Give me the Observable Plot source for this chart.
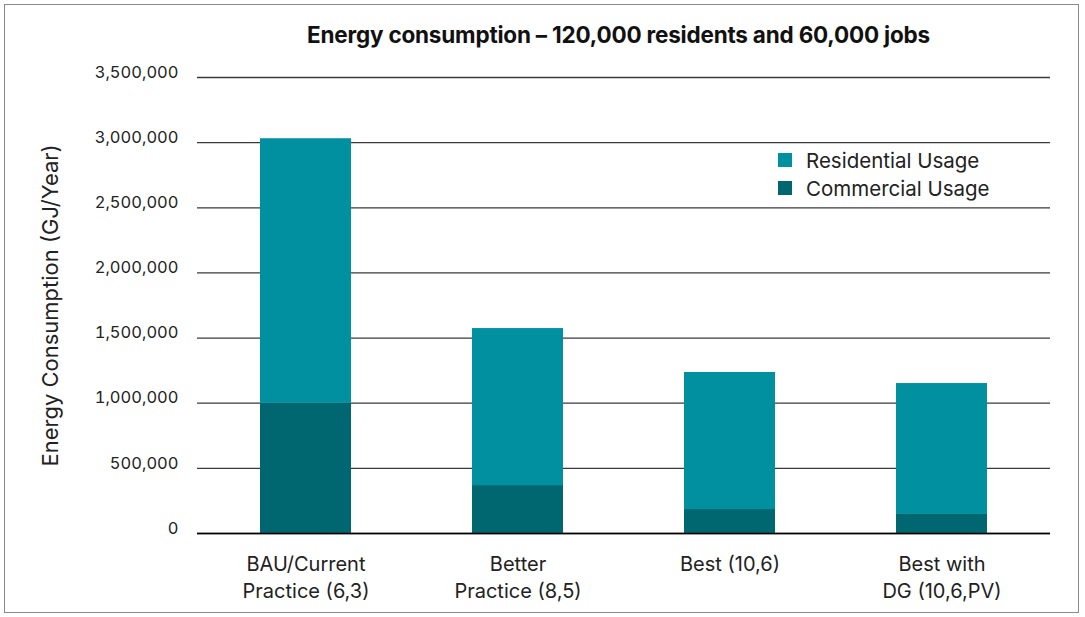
<!DOCTYPE html>
<html>
<head>
<meta charset="utf-8">
<script src="https://cdn.jsdelivr.net/npm/d3@7"></script>
<script src="https://cdn.jsdelivr.net/npm/@observablehq/plot@0.6"></script>
<style>
  html, body { margin: 0; padding: 0; background: #fff; }
  #wrap { position: relative; width: 1085px; height: 617px; overflow: hidden; font-family: Inter, "Noto Sans", sans-serif; }
  #frame { position: absolute; left: 4px; top: 4px; width: 1075px; height: 609px; border: 1px solid #8a8a8a; box-sizing: border-box; }
  #title { position: absolute; left: 0; top: 21px; width: 1237px; text-align: center; font-weight: 700; font-size: 22.5px; color: #111; letter-spacing: -0.2px; }
  #legend { position: absolute; left: 778px; top: 146px; font-size: 20.5px; color: #222; }
  .li { display: flex; align-items: center; height: 28px; }
  .sw { width: 14px; height: 14px; margin-right: 14px; }
  #chart { position: absolute; left: 0; top: 0; }
</style>
</head>
<body>
<div id="wrap">
  <div id="frame"></div>
  <div id="chart"></div>
  <div id="title">Energy consumption – 120,000 residents and 60,000 jobs</div>
  <div id="legend"></div>
</div>
<script>
const categories = ["BAU/Current\nPractice (6,3)", "Better\nPractice (8,5)", "Best (10,6)", "Best with\nDG (10,6,PV)"];
const residential = [2030000, 1205000, 1052000, 1005000];
const commercial = [1000000, 368000, 184000, 146000];
const seriesNames = ["Commercial Usage", "Residential Usage"];
const seriesColors = ["#006670", "#0190a0"];
const yTicks = [0, 500000, 1000000, 1500000, 2000000, 2500000, 3000000, 3500000];

const rows = [];
categories.forEach((c, i) => {
  rows.push({cat: c, series: "Commercial Usage", value: commercial[i]});
  rows.push({cat: c, series: "Residential Usage", value: residential[i]});
});

const fmt = d3.format(",");

const chart = Plot.plot({
  width: 1085,
  height: 617,
  marginTop: 77,
  marginBottom: 84,
  marginLeft: 197,
  marginRight: 35,
  style: {fontFamily: "Inter, 'Noto Sans', sans-serif", background: "transparent", color: "#222"},
  x: {domain: categories, paddingInner: 0.57, paddingOuter: 0.29, label: null},
  y: {domain: [0, 3500000], label: null},
  color: {domain: seriesNames, range: seriesColors},
  marks: [
    Plot.gridY(yTicks, {stroke: "#3a3a3a", strokeOpacity: 1, strokeWidth: 1.3}),
    Plot.barY(rows, Plot.stackY({order: seriesNames}, {x: "cat", y: "value", fill: "series"})),
    Plot.ruleY([0], {stroke: "#000", strokeWidth: 1.5}),
    Plot.axisY(yTicks, {tickSize: 0, tickPadding: 19, tickFormat: fmt, fontSize: 16.5, dy: -5, label: null}),
    Plot.axisX({tickSize: 0, tickPadding: 18, fontSize: 20, lineHeight: 1.35, label: null}),
    Plot.text(["Energy Consumption (GJ/Year)"], {frameAnchor: "left", dx: -147, rotate: -90, textAnchor: "middle", fontSize: 22, fill: "#222"})
  ]
});
document.getElementById("chart").appendChild(chart);

const legend = document.getElementById("legend");
["Residential Usage", "Commercial Usage"].forEach(name => {
  const row = document.createElement("div");
  row.className = "li";
  const sw = document.createElement("div");
  sw.className = "sw";
  sw.style.background = seriesColors[seriesNames.indexOf(name)];
  const t = document.createElement("span");
  t.textContent = name;
  row.appendChild(sw);
  row.appendChild(t);
  legend.appendChild(row);
});
</script>
</body>
</html>
